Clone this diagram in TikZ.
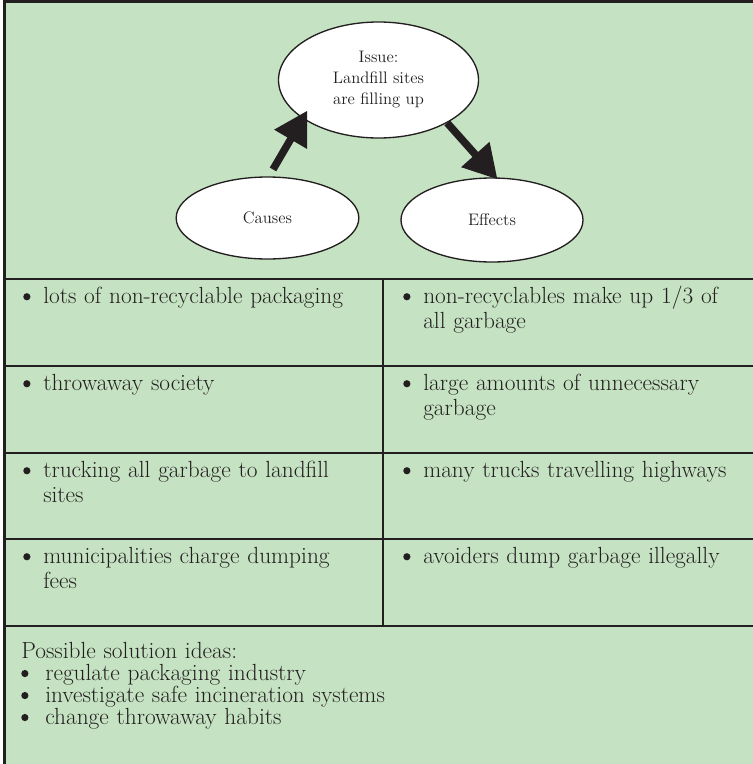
\documentclass[tikz,border=0pt]{standalone}
\usetikzlibrary{arrows.meta,shapes.geometric}
\definecolor{SheetGreen}{HTML}{C5E2C2}
\definecolor{SheetInk}{HTML}{231F20}
% keep the fixed leading even where ascenders meet descenders
\setlength{\normallineskiplimit}{-10pt}
\setlength{\lineskiplimit}{-10pt}
% round bullet with a hanging second line
\newcommand{\dotmark}{\tikz[baseline=0pt]\fill[SheetInk] (2.7pt,4.9pt) circle (2.7pt);}
\newcommand{\bulletitem}[2][15pt]{\hangindent=#1\hangafter=1\noindent\strut\makebox[#1][l]{\dotmark}#2\par}
\tikzset{
  every node/.style={text=SheetInk},
  bubble/.style={ellipse, draw=SheetInk, line width=1pt, fill=white, inner sep=0pt,
    align=center, font=\fontsize{12.5}{15.75}\selectfont},
  frame/.style={draw=SheetInk, line width=1.6pt},
  rule/.style={draw=SheetInk, line width=1.4pt},
  cell/.style={anchor=north west, inner sep=0pt, text width=270pt, align=left,
    font=\fontsize{17.5}{18.75}\selectfont},
  fatarrow/.style={-{Triangle[length=25pt,width=27pt]}, draw=SheetInk, line width=5.6pt},
}

\begin{document}
\begin{tikzpicture}[x=0.75pt,y=-0.75pt]
  \useasboundingbox (0,0) rectangle (753,764);
  % sheet and rules
  \fill[SheetGreen] (4.5,1.5) rectangle (753,764);
  \draw[frame] (753,1.5) -- (4.5,1.5) -- (4.5,764);
  \draw[frame, line width=2.2pt] (4.5,279) -- (753,279);
  \foreach \y in {366,453,539,626}
    \draw[rule] (4.5,\y) -- (753,\y);
  \draw[rule] (382.6,279) -- (382.6,626);

  % issue map
  \node[bubble, minimum width=150pt, minimum height=87pt] (issue) at (378.5,80)
    {Issue:\\Landfill sites\\are filling up};
  \node[bubble, minimum width=137pt, minimum height=61.5pt] (causes) at (267.5,218) {Causes};
  \node[bubble, minimum width=136.5pt, minimum height=63pt] (effects) at (492,220) {Effects};
  \draw[fatarrow, shorten <=6pt, shorten >=-7pt] (causes.88) -- (issue.207);
  \draw[fatarrow, shorten >=-2pt] (issue.328.5) -- (effects.85.6);

  % causes column
  \node[cell] (cause1) at (23,285.5) {\bulletitem{lots of non-recyclable packaging}};
  \node[cell] (cause2) at (23,372.5) {\bulletitem{throwaway society}};
  \node[cell] (cause3) at (23,459.5) {\bulletitem{trucking all garbage to landfill\newline sites}};
  \node[cell] (cause4) at (23,545.5) {\bulletitem{municipalities charge dumping\newline fees}};

  % effects column
  \node[cell] (effect1) at (403,285.5) {\bulletitem{non-recyclables make up 1/3 of\newline all garbage}};
  \node[cell] (effect2) at (403,372.5) {\bulletitem{large amounts of unnecessary\newline garbage}};
  \node[cell] (effect3) at (403,459.5) {\bulletitem{many trucks travelling highways}};
  \node[cell] (effect4) at (403,545.5) {\bulletitem{avoiders dump garbage illegally}};

  % solutions
  \node[cell, text width=500pt, font=\fontsize{17.5}{16.5}\selectfont] (ideas) at (21,641.6)
    {\strut Possible solution ideas:\par
     \bulletitem[18pt]{regulate packaging industry}
     \bulletitem[18pt]{investigate safe incineration systems}
     \bulletitem[18pt]{change throwaway habits}};
\end{tikzpicture}
\end{document}
